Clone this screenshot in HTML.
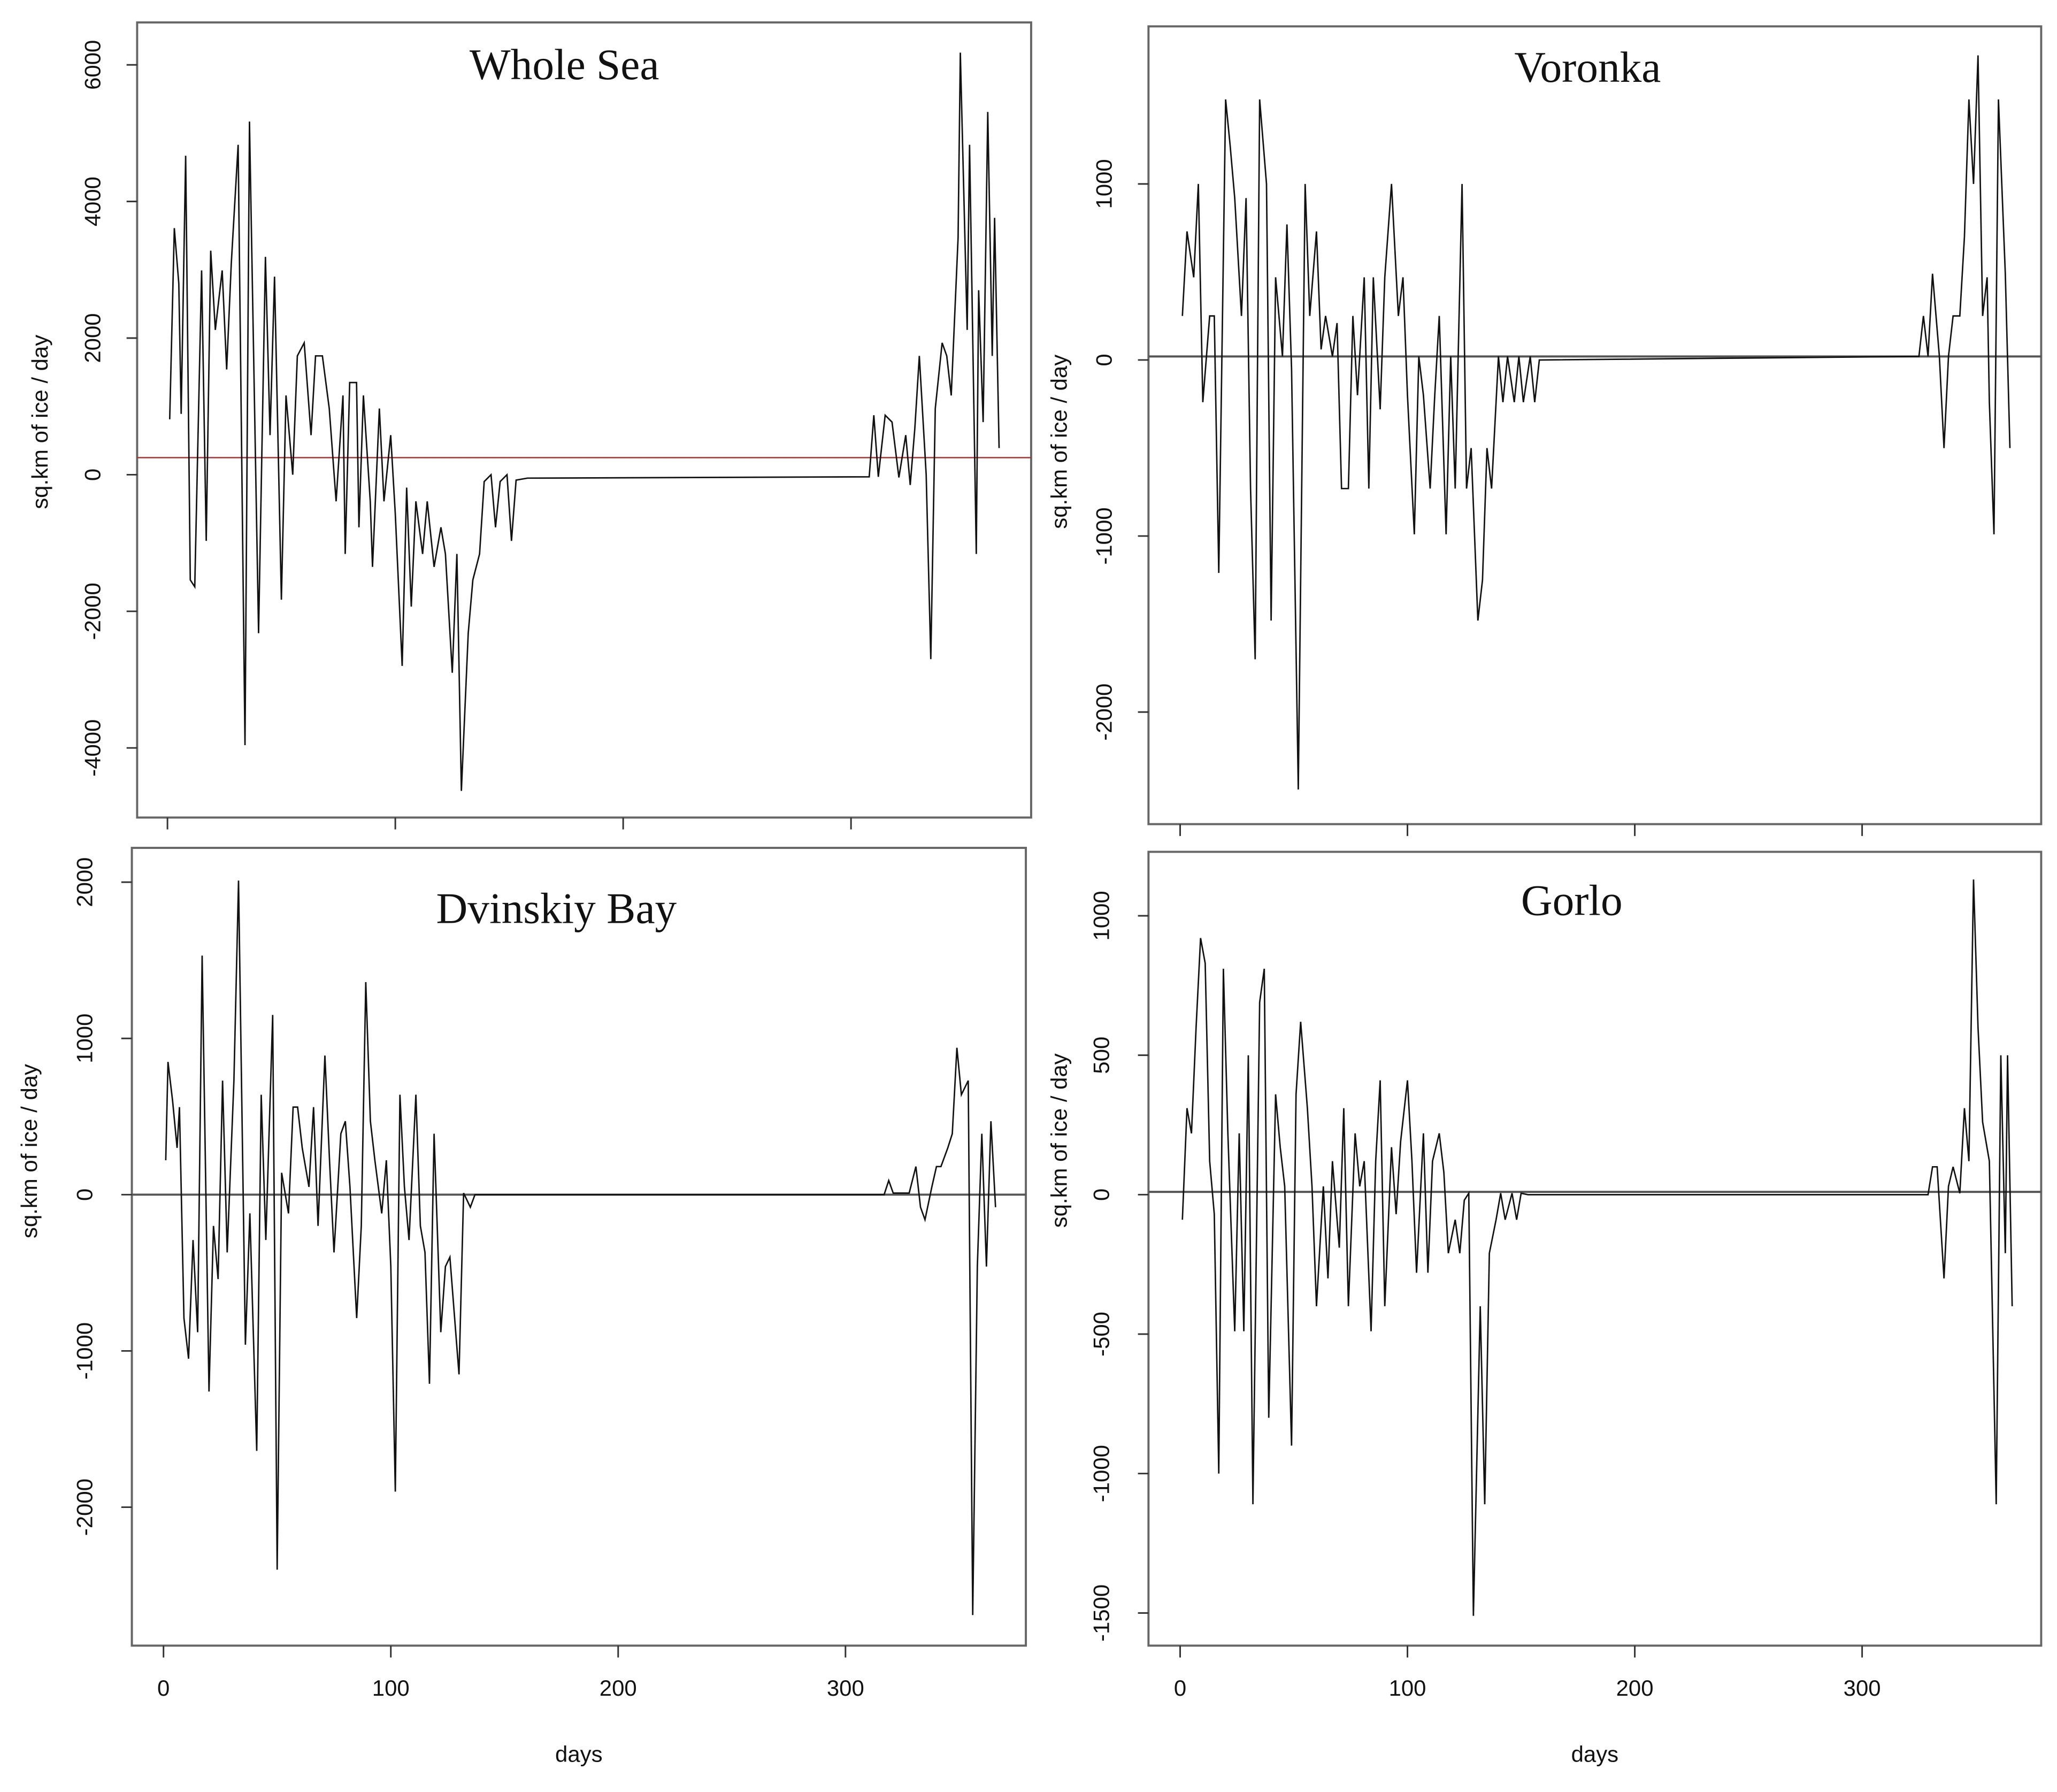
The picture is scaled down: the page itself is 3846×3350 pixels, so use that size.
<!DOCTYPE html>
<html><head><meta charset="utf-8"><style>
html,body{margin:0;padding:0;background:#fff;}
svg{display:block;}
</style></head><body>
<svg id="chart" xmlns="http://www.w3.org/2000/svg" width="3846" height="3350" viewBox="0 0 1560 1359" preserveAspectRatio="none">
<rect width="1560" height="1359" fill="#fff"/>
</svg>
<script>
// ---- data ----
const wsDays=[1,3,5,6,8,10,12,15,17,19,21,24,26,28,31,34,36,40,43,45,47,50,52,55,57,60,63,65,68,71,74,77,78,80,83,84,86,89,90,93,95,98,100,103,105,107,109,112,114,117,120,122,125,127,129,132,134,137,139,142,144,146,149,151,153,158,308,310,312,315,318,321,324,326,328,330,333,335,337,340,342,344,347,348,351,352,355,356,358,360,362,363,365];
const wsVals=[810,3610,2800,890,4670,-1540,-1640,2990,-970,3280,2120,2990,1540,3090,4830,-3960,5170,-2320,3190,580,2900,-1830,1160,0,1740,1930,580,1740,1740,970,-390,1160,-1160,1350,1350,-770,1160,-390,-1350,970,-390,580,-580,-2800,-190,-1930,-390,-1160,-390,-1350,-770,-1160,-2900,-1160,-4630,-2320,-1540,-1160,-100,0,-770,-100,0,-970,-80,-50,-30,870,-30,870,770,-40,580,-150,680,1740,0,-2700,970,1930,1740,1160,3470,6180,2120,4830,-1160,2700,770,5310,1740,3760,390];
const voDays=[1,3,6,8,10,13,15,17,20,22,24,27,29,31,33,35,38,40,42,45,47,49,52,55,57,60,62,64,67,69,71,74,76,78,81,83,85,88,90,93,96,98,100,103,105,107,110,112,114,117,119,121,124,126,128,131,133,135,137,140,142,144,147,149,151,154,156,158,325,327,329,331,334,336,338,340,343,345,347,349,351,353,355,356,358,360,363,365];
const voVals=[250,730,470,1000,-240,250,250,-1210,1480,1220,920,250,920,-730,-1700,1480,1000,-1480,470,20,770,-50,-2440,1000,250,730,60,250,20,210,-730,-730,250,-200,470,-730,470,-280,470,1000,250,470,-200,-990,20,-200,-730,-200,250,-990,20,-730,1000,-730,-500,-1480,-1250,-500,-730,20,-240,20,-240,20,-240,20,-240,0,20,250,20,490,20,-500,20,250,250,700,1480,1000,1730,250,470,-240,-990,1480,490,-500];
const dvDays=[1,2,4,6,7,9,11,13,15,17,20,22,24,26,28,31,33,36,38,41,43,45,48,50,52,55,57,59,61,64,66,68,71,73,75,78,80,82,85,87,89,91,93,96,98,100,102,104,106,108,111,113,115,117,119,122,124,126,130,132,135,137,317,319,321,328,331,333,335,338,340,342,345,347,349,351,354,356,358,360,362,364,366];
const dvVals=[220,850,600,300,560,-790,-1050,-290,-880,1530,-1260,-200,-540,730,-370,730,2010,-960,-120,-1640,640,-290,1150,-2400,140,-120,560,560,300,50,560,-200,890,220,-370,390,470,50,-790,-200,1360,470,220,-120,220,-460,-1900,640,50,-290,640,-200,-370,-1210,390,-880,-460,-400,-1150,10,-80,0,0,90,10,10,180,-80,-160,50,180,180,300,390,940,640,730,-2690,-460,390,-460,470,-80];
const goDays=[1,3,5,7,9,11,13,15,17,19,21,24,26,28,30,32,35,37,39,42,44,46,49,51,53,56,58,60,63,65,67,70,72,74,77,79,81,84,86,88,90,93,95,97,100,102,104,107,109,111,114,116,118,121,123,125,127,129,132,134,136,139,141,143,146,148,150,153,329,331,333,336,338,340,343,345,347,349,351,353,356,357,359,361,363,364,366];
const goVals=[-90,310,220,600,920,830,120,-70,-1000,810,220,-490,220,-490,500,-1110,690,810,-800,360,170,30,-900,360,620,310,30,-400,30,-300,120,-190,310,-400,220,30,120,-490,120,410,-400,170,-70,190,410,120,-280,220,-280,120,220,80,-210,-90,-210,-20,5,-1510,-400,-1110,-210,-90,5,-90,5,-90,5,0,0,100,100,-300,30,100,5,310,120,1130,600,260,120,-300,-1110,500,-210,500,-400];
const xTicks=[0,100,200,300];
const wsYTicks=[-4000,-2000,0,2000,4000,6000];
const voYTicks=[-2000,-1000,0,1000];
const dvYTicks=[-2000,-1000,0,1000,2000];
const goYTicks=[-1500,-1000,-500,0,500,1000];
const titles=["Whole Sea","Voronka","Dvinskiy Bay","Gorlo"];
const refVals=[250,20,0,10];

const NS="http://www.w3.org/2000/svg";
const svg=document.getElementById('chart');
function mk(tag,attrs,parent){const e=document.createElementNS(NS,tag);for(const k in attrs)e.setAttribute(k,attrs[k]);(parent||svg).appendChild(e);return e;}

const panels=[
 {key:'whole-sea',days:wsDays,vals:wsVals,yt:wsYTicks,box:[104,17,782,620],x0:127,xs:1.728,y0:360,ys:0.0518,ylx:70,yax:30,yay:320,tx:428,ty:60,xl:false,ref:'#a33',refw:1},
 {key:'voronka',days:voDays,vals:voVals,yt:voYTicks,box:[871,20,1548,625],x0:895,xs:1.724,y0:273,ys:0.1335,ylx:837,yax:803,yay:335,tx:1204,ty:62,xl:false,ref:'#555',refw:1.6},
 {key:'dvinskiy-bay',days:dvDays,vals:dvVals,yt:dvYTicks,box:[100,643,778,1248],x0:124,xs:1.724,y0:906,ys:0.1185,ylx:64,yax:22,yay:873,tx:422,ty:700,xl:true,ref:'#555',refw:1.6},
 {key:'gorlo',days:goDays,vals:goVals,yt:goYTicks,box:[871,646,1548,1248],x0:895,xs:1.724,y0:906,ys:0.2115,ylx:835,yax:803,yay:865,tx:1192,ty:694,xl:true,ref:'#555',refw:1.6}
];

panels.forEach((p,i)=>{
  const g=mk('g',{});
  
  
  const xS=d=>p.x0+d*p.xs, yS=v=>p.y0-v*p.ys;
  const [L,T,R,B]=p.box;
  const fr=mk('rect',{x:L,y:T,width:R-L,height:B-T,fill:'none',stroke:'#666','stroke-width':1.6},g);
  
  
  const rl=mk('line',{x1:L,x2:R,y1:yS(refVals[i]),y2:yS(refVals[i]),stroke:p.ref,'stroke-width':p.refw},g);
  
  
  const pts=p.days.map((d,j)=>xS(d).toFixed(1)+','+yS(p.vals[j]).toFixed(1)).join(' ');
  const pl=mk('polyline',{points:pts,fill:'none',stroke:'#111','stroke-width':1.1,'stroke-linejoin':'miter'},g);
  
  
  p.yt.forEach(v=>{
    const y=yS(v);
    const t=mk('line',{x1:L-8,x2:L,y1:y,y2:y,stroke:'#333','stroke-width':1.2},g);
    
    
    const tx=mk('text',{x:0,y:0,transform:`translate(${p.ylx+6},${y}) rotate(-90)`,'text-anchor':'middle','font-family':'"Liberation Sans",Arial,sans-serif','font-size':17,fill:'#111'},g);
    tx.textContent=v;
    
    
  });
  xTicks.forEach(d=>{
    const x=xS(d);
    const t=mk('line',{x1:x,x2:x,y1:B,y2:B+9,stroke:'#333','stroke-width':1.2},g);
    
    
    if(p.xl){
      const tx=mk('text',{x:x,y:1286,'text-anchor':'middle','font-family':'"Liberation Sans",Arial,sans-serif','font-size':17,fill:'#111'},g);
      tx.textContent=d;
      
      
    }
  });
  if(p.xl){
    const xt=mk('text',{x:(L+R)/2,y:1336,'text-anchor':'middle','font-family':'"Liberation Sans",Arial,sans-serif','font-size':17,fill:'#111'},g);
    xt.textContent='days';
    
    
  }
  const ya=mk('text',{x:0,y:0,transform:`translate(${p.yax+6},${p.yay}) rotate(-90)`,'text-anchor':'middle','font-family':'"Liberation Sans",Arial,sans-serif','font-size':17,fill:'#111'},g);
  ya.textContent='sq.km of ice / day';
  
  
  const ti=mk('text',{x:p.tx,y:p.ty,'text-anchor':'middle','font-family':'"Liberation Serif","Times New Roman",serif','font-size':33,fill:'#111'},g);
  ti.textContent=titles[i];
  
  
});
</script>
</body></html>
